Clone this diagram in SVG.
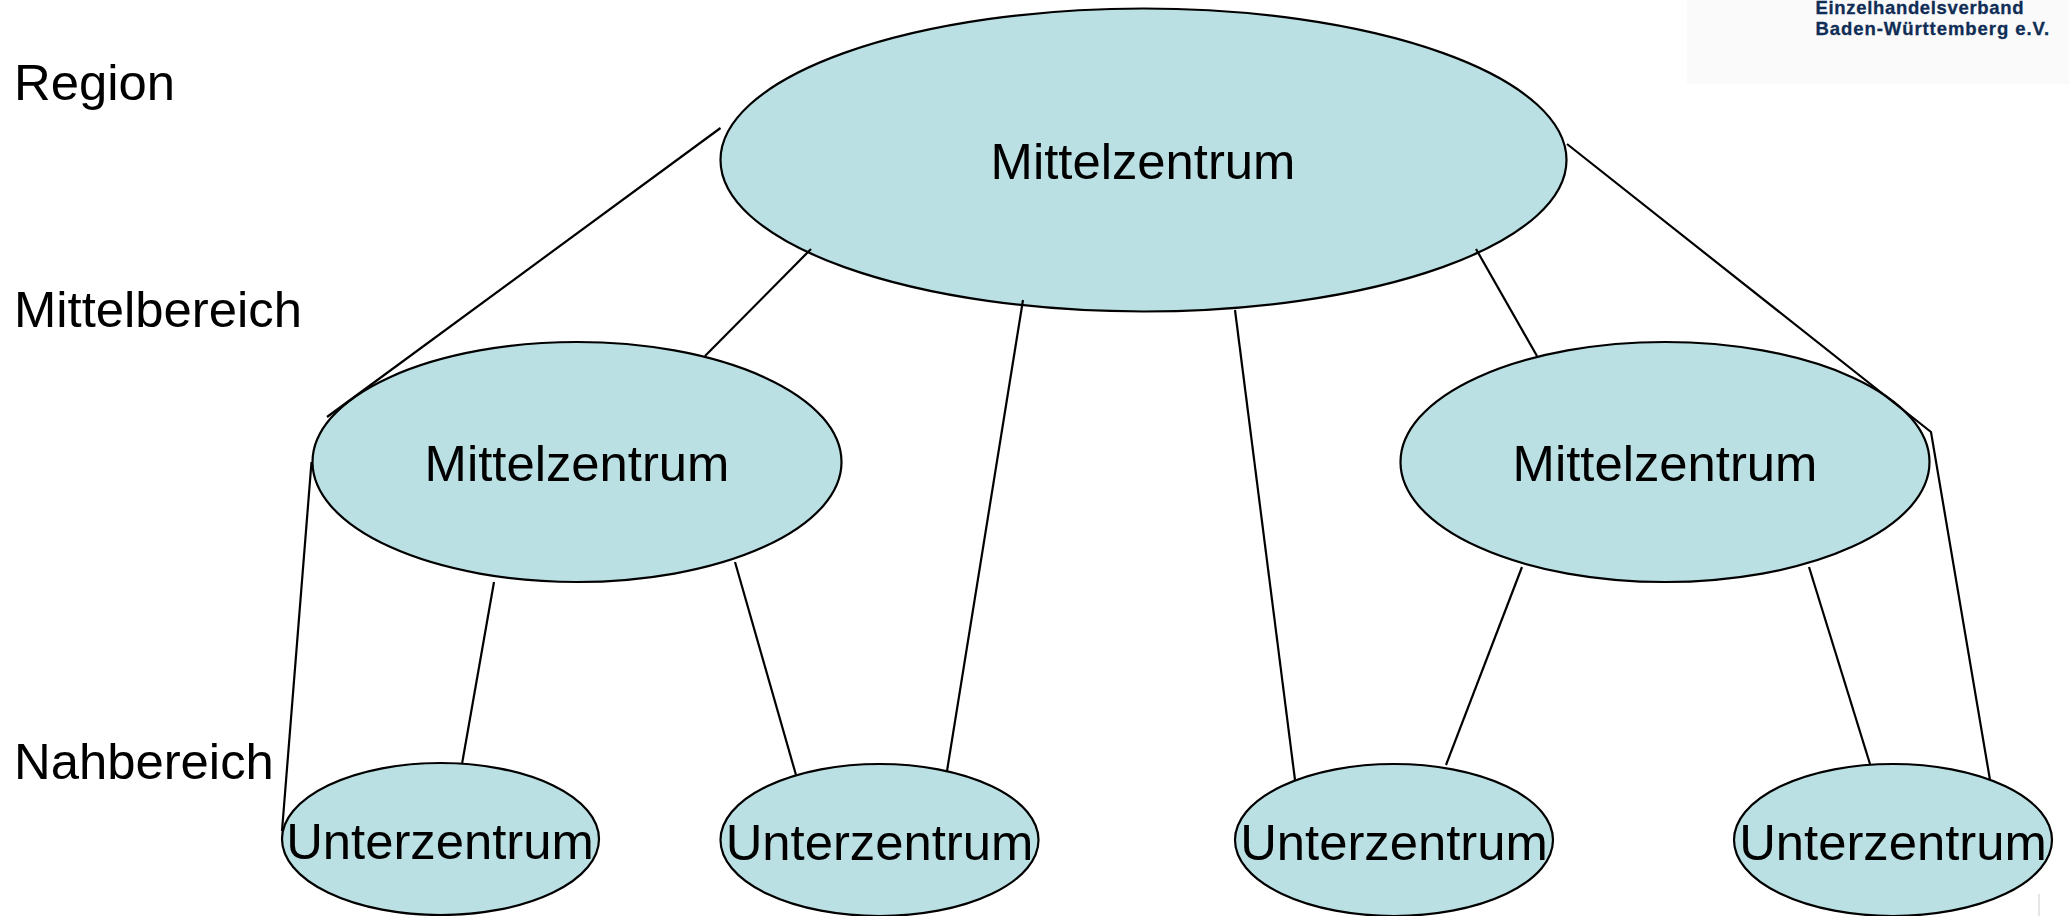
<svg xmlns="http://www.w3.org/2000/svg" width="2069" height="916" viewBox="0 0 2069 916">
<style>
text{font-family:"Liberation Sans",Arial,sans-serif;fill:#000;font-size:50.8px}
.c{text-anchor:middle}
.n{fill:#bbe0e3;stroke:#000;stroke-width:2.2}
.k line,.k polyline{fill:none;stroke:#000;stroke-width:2.2}
text.logo{font-size:18.5px;font-weight:700;fill:#0f2d55;stroke:#0f2d55;stroke-width:.3}
</style>
<rect width="2069" height="916" fill="#fff"/>
<g id="logo"><rect x="1687" y="0" width="382" height="84" fill="#fafafa"/>
<text class="logo" x="1815.5" y="14" letter-spacing="0.67">Einzelhandelsverband</text>
<text class="logo" x="1815.5" y="35" letter-spacing="0.93">Baden-Württemberg e.V.</text></g>
<line x1="2039" y1="894" x2="2039" y2="916" stroke="#ccc" stroke-width="1"/>
<g id="levels">
<text x="14" y="100">Region</text>
<text x="14" y="327">Mittelbereich</text>
<text x="14" y="779">Nahbereich</text>
</g>
<g id="n1"><ellipse class="n" cx="1143.5" cy="160" rx="423" ry="151.5"/><text class="c" x="1143" y="179">Mittelzentrum</text></g>
<g id="n2"><ellipse class="n" cx="577" cy="462" rx="264.5" ry="120"/><text class="c" x="577" y="481">Mittelzentrum</text></g>
<g id="n3"><ellipse class="n" cx="1665" cy="462" rx="264.5" ry="120"/><text class="c" x="1665" y="481">Mittelzentrum</text></g>
<g id="n4"><ellipse class="n" cx="440.5" cy="839" rx="158.5" ry="76"/><text class="c" x="440" y="859">Unterzentrum</text></g>
<g id="n5"><ellipse class="n" cx="879.5" cy="840" rx="159" ry="76"/><text class="c" x="879.5" y="860">Unterzentrum</text></g>
<g id="n6"><ellipse class="n" cx="1394" cy="840" rx="159" ry="76"/><text class="c" x="1394" y="860">Unterzentrum</text></g>
<g id="n7"><ellipse class="n" cx="1893" cy="840" rx="159" ry="76"/><text class="c" x="1893" y="860">Unterzentrum</text></g>
<g id="connectors" class="k">
<polyline points="720.5,128 327,417"/>
<polyline points="1567,144 1931,432 1990,780"/>
<line x1="311.5" y1="462" x2="282" y2="831"/>
<line x1="811" y1="249" x2="705" y2="356"/>
<line x1="1023" y1="300" x2="947" y2="771"/>
<line x1="1235" y1="310" x2="1295" y2="780"/>
<line x1="1476" y1="249" x2="1537" y2="356"/>
<line x1="494" y1="582" x2="462" y2="764"/>
<line x1="735" y1="562" x2="796" y2="775"/>
<line x1="1522" y1="567" x2="1446" y2="765"/>
<line x1="1809" y1="567" x2="1870" y2="764"/>
</g>
</svg>
